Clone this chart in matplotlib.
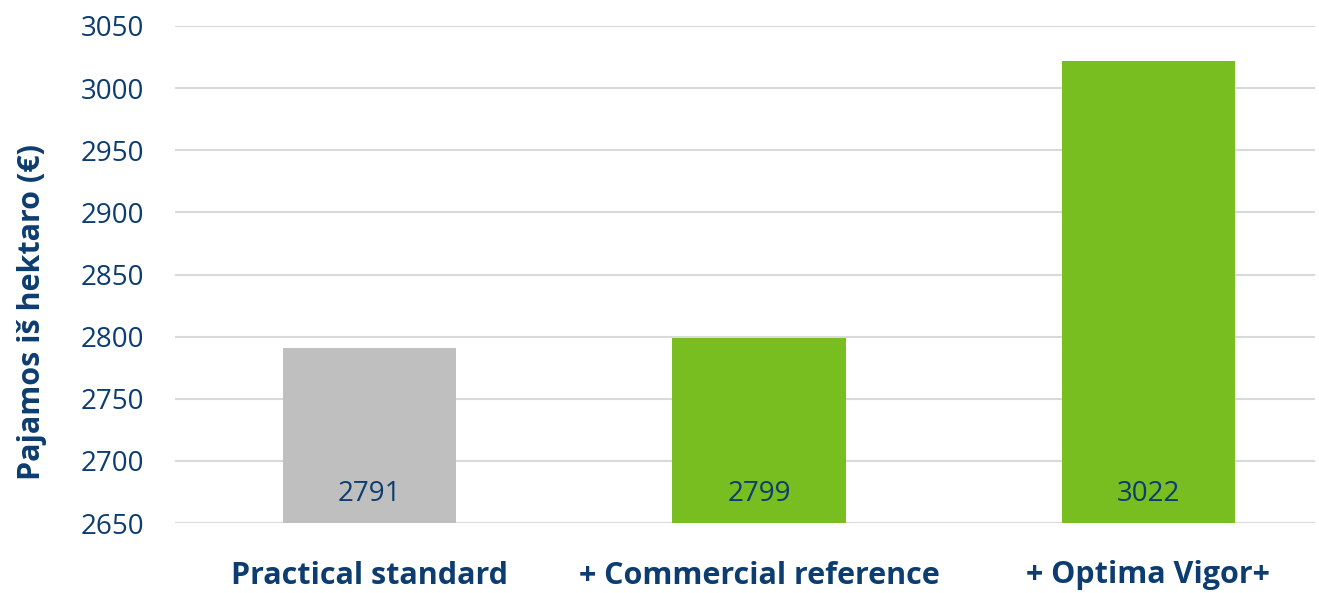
import matplotlib.pyplot as plt

plt.rcParams['font.family'] = ['Open Sans', 'DejaVu Sans']

categories = ['Practical standard', '+ Commercial reference', '+ Optima Vigor+']
values = [2791, 2799, 3022]
bar_colors = ['#BFBFBF', '#78BE21', '#78BE21']
y_ticks = [2650, 2700, 2750, 2800, 2850, 2900, 2950, 3000, 3050]

text_color = '#0D3D70'

fig = plt.figure(figsize=(13.19, 5.93), dpi=100)
ax = fig.add_axes([175 / 1319, 70 / 593, 1140 / 1319, 497 / 593])

x = range(len(categories))
bars = ax.bar(x, values, width=0.445, color=bar_colors, zorder=2)

ax.set_ylim(2650, 3050)
ax.set_xlim(-0.5, 2.428)
ax.set_yticks(y_ticks)
ax.yaxis.grid(True, color='#D9D9D9', linewidth=1.5, zorder=0)
ax.set_axisbelow(True)
for s in ax.spines.values():
    s.set_visible(False)

ax.tick_params(axis='y', length=0, pad=22, labelsize=20, labelcolor=text_color)
ax.tick_params(axis='x', length=0, pad=27, labelcolor=text_color)
ax.set_xticks(list(x))
ax.set_xticklabels(categories, fontsize=22, fontweight='bold')

ax.set_ylabel('Pajamos iš hektaro (€)', fontsize=22, fontweight='bold',
              color=text_color)
ax.yaxis.set_label_coords(-0.112, 0.425)

# reikšmės stulpelių apačioje
for b, v in zip(bars, values):
    ax.annotate(str(v), (b.get_x() + b.get_width() / 2, 2650),
                xytext=(0, 21), textcoords='offset points',
                ha='center', va='center', fontsize=20, color=text_color)

fig.savefig('out.png', dpi=100)
